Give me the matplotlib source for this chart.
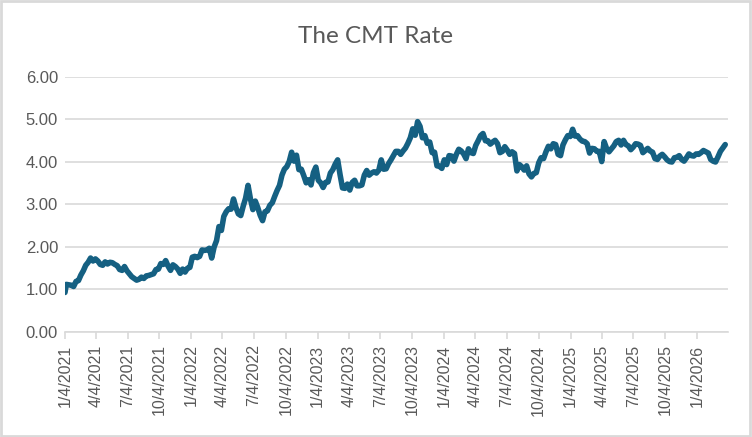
import matplotlib

matplotlib.use("Agg")
import matplotlib.pyplot as plt
import pandas as pd
from matplotlib.patches import Rectangle

# weekly CMT rate readings (Friday closes)
rate_2021 = [
    0.93, 1.12, 1.11, 1.10, 1.07,            # Jan (starts 1/4)
    1.19, 1.21, 1.34, 1.44,                  # Feb
    1.57, 1.64, 1.74, 1.67,                  # Mar
    1.72, 1.67, 1.59, 1.57, 1.65,            # Apr
    1.60, 1.64, 1.63, 1.59,                  # May
    1.56, 1.47, 1.45, 1.54,                  # Jun
    1.44, 1.37, 1.30, 1.26, 1.22,            # Jul
    1.24, 1.29, 1.26, 1.32,                  # Aug
    1.33, 1.35, 1.37, 1.47,                  # Sep
    1.48, 1.61, 1.59, 1.68, 1.55,            # Oct
    1.45, 1.58, 1.54, 1.48,                  # Nov
    1.38, 1.48, 1.41, 1.50, 1.52,            # Dec
]
rate_2022 = [
    1.76, 1.78, 1.75, 1.78,
    1.93, 1.92, 1.93, 1.97,
    1.74, 2.00, 2.15, 2.48,
    2.39, 2.72, 2.83, 2.90, 2.89,
    3.13, 2.93, 2.78, 2.74,
    2.96, 3.15, 3.45, 3.13,
    2.88, 3.08, 2.93, 2.75, 2.62,
    2.83, 2.85, 2.98, 3.04,
    3.19, 3.33, 3.45, 3.69, 3.83,
    3.89, 4.01, 4.23, 4.02,
    4.16, 3.82, 3.83, 3.68,
    3.51, 3.58, 3.46, 3.75, 3.88,
]
rate_2023 = [
    3.57, 3.51, 3.40, 3.52,
    3.53, 3.74, 3.82, 3.95,
    4.05, 3.70, 3.39, 3.38, 3.48,
    3.34, 3.52, 3.57, 3.44,
    3.44, 3.46, 3.69, 3.80,
    3.69, 3.74, 3.77, 3.74, 3.81,
    4.05, 3.83, 3.84, 3.96,
    4.05, 4.15, 4.25, 4.25,
    4.18, 4.26, 4.33, 4.44, 4.57,
    4.78, 4.63, 4.95, 4.84,
    4.57, 4.62, 4.44, 4.47,
    4.22, 4.23, 3.91, 3.90, 3.85,
]
rate_2024 = [
    4.05, 3.94, 4.15, 4.14,
    4.02, 4.18, 4.30, 4.26,
    4.19, 4.08, 4.31, 4.22, 4.20,
    4.39, 4.50, 4.62, 4.67,
    4.50, 4.50, 4.42, 4.47, 4.51,
    4.43, 4.22, 4.25, 4.36,
    4.28, 4.18, 4.24, 4.20,
    3.79, 3.94, 3.89, 3.81, 3.91,
    3.72, 3.65, 3.73, 3.75,
    3.98, 4.10, 4.08, 4.24,
    4.37, 4.31, 4.43, 4.41, 4.18,
    4.15, 4.40, 4.52, 4.62,
]
rate_2025 = [
    4.60, 4.77, 4.61, 4.62, 4.54,
    4.49, 4.48, 4.43, 4.21,
    4.32, 4.31, 4.25, 4.25,
    4.01, 4.48, 4.32, 4.24,
    4.31, 4.38, 4.48, 4.51, 4.40,
    4.51, 4.41, 4.38, 4.29,
    4.35, 4.43, 4.42, 4.39,
    4.22, 4.27, 4.32, 4.26, 4.23,
    4.08, 4.06, 4.14, 4.18,
    4.12, 4.05, 4.01, 4.00, 4.10,
    4.11, 4.15, 4.06, 4.02,
    4.10, 4.19, 4.15, 4.14,
]
rate_2026 = [
    4.19, 4.18, 4.22, 4.27, 4.24,
    4.21, 4.06, 4.02, 4.00,
    4.12, 4.25, 4.33, 4.41,
]

tick_labels = [
    "1/4/2021", "4/4/2021", "7/4/2021", "10/4/2021",
    "1/4/2022", "4/4/2022", "7/4/2022", "10/4/2022",
    "1/4/2023", "4/4/2023", "7/4/2023", "10/4/2023",
    "1/4/2024", "4/4/2024", "7/4/2024", "10/4/2024",
    "1/4/2025", "4/4/2025", "7/4/2025", "10/4/2025",
    "1/4/2026",
]
y_ticks = [0, 1, 2, 3, 4, 5, 6]

# one date per reading: 1/4/2021, then every Friday
dates = [pd.Timestamp("2021-01-04")]
dates += list(pd.date_range("2021-01-08", "2021-12-31", freq="W-FRI"))
for year in (2022, 2023, 2024, 2025):
    dates += list(pd.date_range(f"{year}-01-01", f"{year}-12-31", freq="W-FRI"))
dates += list(pd.date_range("2026-01-01", "2026-03-27", freq="W-FRI"))
rates = rate_2021 + rate_2022 + rate_2023 + rate_2024 + rate_2025 + rate_2026
assert len(dates) == len(rates), (len(dates), len(rates))

GRID = "#d9d9d9"
TEXT = "#595959"
LINE = "#156082"

fig = plt.figure(figsize=(7.52, 4.37), dpi=100)
ax = fig.add_axes([0.0864, 0.2403, 0.8817, 0.5835])

ax.plot(dates, rates, color=LINE, linewidth=4.0, solid_joinstyle="round", solid_capstyle="round")

ax.set_ylim(0, 6)
ax.set_yticks(y_ticks)
ax.set_yticklabels([f"{v:.2f}" for v in y_ticks])
ax.set_xlim(pd.Timestamp("2021-01-04"), pd.Timestamp("2026-04-04"))
tick_pos = [pd.Timestamp(f"{s.split('/')[2]}-{s.split('/')[0]}-{s.split('/')[1]}") for s in tick_labels]
ax.set_xticks(tick_pos)
ax.set_xticklabels(tick_labels, rotation=90)

ax.grid(axis="y", color=GRID, linewidth=1.2)
ax.set_axisbelow(True)
for side in ("top", "right", "left"):
    ax.spines[side].set_visible(False)
ax.spines["bottom"].set_color(GRID)
ax.spines["bottom"].set_linewidth(1.2)
ax.tick_params(axis="x", direction="out", length=5, width=1.2, color=GRID,
               labelcolor=TEXT, labelsize=11.5, pad=4)
ax.tick_params(axis="y", length=0, labelcolor=TEXT, labelsize=12, pad=5)
for lab in ax.get_xticklabels() + ax.get_yticklabels():
    lab.set_fontfamily("Liberation Sans")

fig.text(0.5, 0.917, "The CMT Rate", ha="center", va="center", color=TEXT,
         fontsize=17.5, fontfamily="Lato")

# chart-area border like the spreadsheet export
fig.patches.append(Rectangle((0.001, 0.002), 0.997, 0.995, transform=fig.transFigure,
                             fill=False, edgecolor=GRID, linewidth=2))

fig.savefig("out.png", dpi=100)
